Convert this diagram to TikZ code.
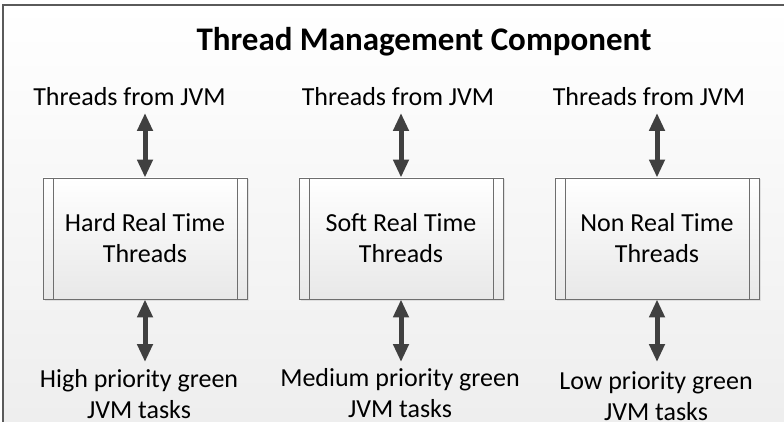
\documentclass[tikz,border=0pt]{standalone}
\usepackage{fontspec}
\setmainfont{Carlito}
\usetikzlibrary{arrows.meta,shadows}
\definecolor{framegray}{HTML}{5A5A5A}
\definecolor{arrowgray}{HTML}{404040}
\definecolor{boxedge}{HTML}{6E6E6E}
\tikzset{
  procbox/.style={draw=boxedge, line width=0.9pt,
    top color=white, bottom color=black!9,
    minimum width=204pt, minimum height=121pt, inner sep=0pt,
    align=center, font=\fontsize{26}{31}\selectfont,
    drop shadow={opacity=0.18, shadow xshift=1.5pt, shadow yshift=-1.5pt},
    path picture={
      \draw[boxedge, line width=0.9pt]
        ([xshift=10pt]path picture bounding box.north west) --
        ([xshift=10pt]path picture bounding box.south west)
        ([xshift=-10pt]path picture bounding box.north east) --
        ([xshift=-10pt]path picture bounding box.south east);
    }},
  label/.style={font=\fontsize{26}{31}\selectfont, align=center, inner sep=0pt},
  biarrow/.style={draw=arrowgray, line width=5pt,
    {Triangle[width=15pt,length=18pt]}-{Triangle[width=15pt,length=18pt]}},
}
\begin{document}
\begin{tikzpicture}[x=1pt,y=-1pt]
  \useasboundingbox (0,0) rectangle (784,422);
  \clip (0,0) rectangle (784,422);
  % panel background and its frame
  \shade[top color=white, bottom color=black!7] (3,5) rectangle (800,440);
  \draw[framegray, line width=1.5pt] (3,440) -- (3,5) -- (800,5);

  \node[font=\fontsize{33}{38}\selectfont\bfseries, inner sep=0pt] (title) at (424,42) {Thread Management Component};

  % thread classes
  \node[procbox] (hard) at (145,238.5) {Hard Real Time\\Threads};
  \node[procbox] (soft) at (401,238.5) {Soft Real Time\\Threads};
  \node[procbox] (non)  at (657,238.5) {Non Real Time\\Threads};

  % JVM threads above
  \node[label, anchor=base] (jvmA) at (129.5,106) {Threads from JVM};
  \node[label, anchor=base] (jvmB) at (398,106) {Threads from JVM};
  \node[label, anchor=base] (jvmC) at (649,106) {Threads from JVM};

  % green tasks below
  \node[label] (taskA) at (139,394) {High priority green\\JVM tasks};
  \node[label] (taskB) at (400,393) {Medium priority green\\JVM tasks};
  \node[label] (taskC) at (656,396) {Low priority green\\JVM tasks};

  % arrow ends
  \coordinate (upA) at (145,113);
  \coordinate (upB) at (401,113);
  \coordinate (upC) at (657,113);
  \coordinate (dnA) at (145,362);
  \coordinate (dnB) at (401,362);
  \coordinate (dnC) at (657,362);

  \draw[biarrow] (upA) -- (hard.north);
  \draw[biarrow] (upB) -- (soft.north);
  \draw[biarrow] (upC) -- (non.north);
  \draw[biarrow] (hard.south) -- (dnA);
  \draw[biarrow] (soft.south) -- (dnB);
  \draw[biarrow] (non.south) -- (dnC);
\end{tikzpicture}
\end{document}
